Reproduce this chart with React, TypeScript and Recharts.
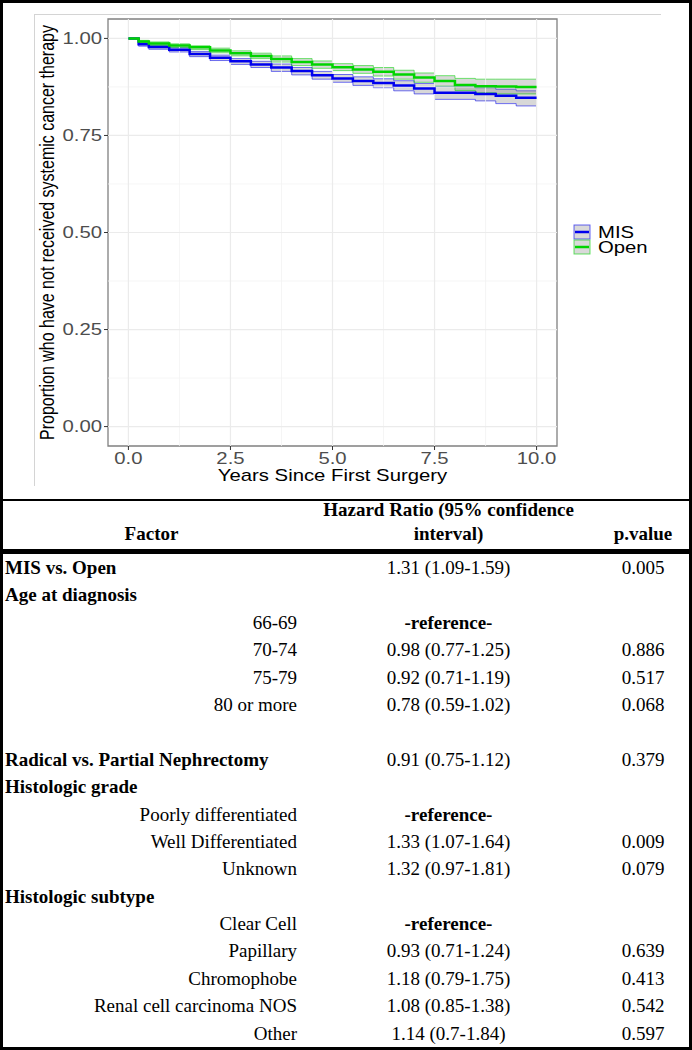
import React from 'react';
import { ComposedChart, Line, Area, XAxis, YAxis, ReferenceLine, ReferenceArea, Label } from 'recharts';

// Kaplan-Meier read-offs (years since first surgery)
const years = [0, 0.25, 0.5, 1, 1.5, 2, 2.5, 3, 3.5, 4, 4.5, 5, 5.5, 6, 6.5, 7, 7.5, 8, 8.5, 9, 9.5, 10];

const misSurv = [1, 0.985, 0.978, 0.971, 0.96, 0.95, 0.941, 0.933, 0.925, 0.916, 0.905, 0.897, 0.89, 0.885, 0.879, 0.871, 0.86, 0.86, 0.857, 0.852, 0.847, 0.847];
const misLower = [1, 0.98, 0.972, 0.965, 0.953, 0.943, 0.933, 0.925, 0.915, 0.906, 0.895, 0.887, 0.879, 0.873, 0.865, 0.857, 0.843, 0.843, 0.839, 0.832, 0.826, 0.826];
const misUpper = [1, 0.99, 0.983, 0.976, 0.966, 0.957, 0.948, 0.941, 0.934, 0.925, 0.915, 0.907, 0.901, 0.896, 0.891, 0.884, 0.876, 0.876, 0.873, 0.869, 0.865, 0.865];

const openSurv = [1, 0.992, 0.987, 0.982, 0.977, 0.969, 0.962, 0.955, 0.947, 0.939, 0.933, 0.926, 0.92, 0.914, 0.907, 0.899, 0.89, 0.88, 0.877, 0.876, 0.875, 0.875];
const openLower = [1, 0.988, 0.982, 0.977, 0.971, 0.963, 0.955, 0.948, 0.939, 0.93, 0.923, 0.917, 0.91, 0.903, 0.895, 0.887, 0.877, 0.866, 0.86, 0.857, 0.857, 0.857];
const openUpper = [1, 0.995, 0.991, 0.986, 0.981, 0.975, 0.968, 0.962, 0.955, 0.948, 0.942, 0.935, 0.93, 0.925, 0.918, 0.911, 0.904, 0.897, 0.895, 0.895, 0.895, 0.895];

const xTicks = [0, 2.5, 5, 7.5, 10];
const xMinor = [1.25, 3.75, 6.25, 8.75];
const yTicks = [0, 0.25, 0.5, 0.75, 1];
const yMinor = [0.125, 0.375, 0.625, 0.875];

// Cox model table
const factorNames = ['MIS vs. Open', 'Age at diagnosis', '66-69', '70-74', '75-79', '80 or more', '', 'Radical vs. Partial Nephrectomy', 'Histologic grade', 'Poorly differentiated', 'Well Differentiated', 'Unknown', 'Histologic subtype', 'Clear Cell', 'Papillary', 'Chromophobe', 'Renal cell carcinoma NOS', 'Other'];
const factorIsGroup = [true, true, false, false, false, false, false, true, true, false, false, false, true, false, false, false, false, false];
const hazardRatios = ['1.31 (1.09-1.59)', '', '-reference-', '0.98 (0.77-1.25)', '0.92 (0.71-1.19)', '0.78 (0.59-1.02)', '', '0.91 (0.75-1.12)', '', '-reference-', '1.33 (1.07-1.64)', '1.32 (0.97-1.81)', '', '-reference-', '0.93 (0.71-1.24)', '1.18 (0.79-1.75)', '1.08 (0.85-1.38)', '1.14 (0.7-1.84)'];
const pValues = ['0.005', '', '', '0.886', '0.517', '0.068', '', '0.379', '', '', '0.009', '0.079', '', '', '0.639', '0.413', '0.542', '0.597'];

const BLUE = '#0000ee';
const GREEN = '#00d400';
const SANS = '"Liberation Sans", Arial, sans-serif';
const SERIF = '"Liberation Serif", "Times New Roman", serif';
const STRETCH = 1.27;

const data = years.map((t, i) => ({
  t,
  mis: misSurv[i],
  misBand: [misLower[i], misUpper[i]],
  open: openSurv[i],
  openBand: [openLower[i], openUpper[i]],
}));

const YTick = (props: any) => {
  const { x, y, payload } = props;
  return (
    <g transform={`translate(${x},${y})`}>
      <text transform={`scale(${STRETCH},1)`} textAnchor="end" dy={5.6} fill="#4d4d4d" fontSize={16} fontFamily={SANS}>
        {Number(payload.value).toFixed(2)}
      </text>
    </g>
  );
};

const XTick = (props: any) => {
  const { x, y, payload } = props;
  return (
    <g transform={`translate(${x},${y})`}>
      <text transform={`scale(${STRETCH},1)`} textAnchor="middle" dy={11.5} fill="#4d4d4d" fontSize={16} fontFamily={SANS}>
        {Number(payload.value).toFixed(1)}
      </text>
    </g>
  );
};

const renderXTitle = (props: any) => {
  const vb = props.viewBox;
  const cx = vb.x + vb.width / 2;
  return (
    <text transform={`translate(${cx},${vb.y + 35}) scale(${STRETCH},1)`} textAnchor="middle" fontSize={16} fill="#000" fontFamily={SANS}>
      Years Since First Surgery
    </text>
  );
};

const renderYTitle = (props: any) => {
  const vb = props.viewBox;
  const cy = vb.y + vb.height / 2;
  return (
    <text transform={`translate(54,${cy}) scale(${STRETCH},1) rotate(-90)`} textAnchor="middle" fontSize={16} fill="#000" fontFamily={SANS}>
      Proportion who have not received systemic cancer therapy
    </text>
  );
};

const legendItems = [
  { name: 'MIS', color: BLUE },
  { name: 'Open', color: GREEN },
];

const KMLegend = () => (
  <svg width={110} height={40} style={{ position: 'absolute', left: 570, top: 222 }}>
    {legendItems.map((item, i) => (
      <g key={item.name} transform={`translate(4,${3 + i * 15})`}>
        <rect x={0} y={0} width={16} height={14} fill="#d9d9d9" stroke={item.color} strokeOpacity={0.6} strokeWidth={1} />
        <line x1={1} x2={15} y1={7} y2={7} stroke={item.color} strokeWidth={2.5} />
        <text transform={`translate(24,12.5) scale(${STRETCH},1)`} fontSize={16} fill="#000" fontFamily={SANS}>
          {item.name}
        </text>
      </g>
    ))}
  </svg>
);

const KMChart = () => (
  <ComposedChart width={692} height={497} data={data} margin={{ top: 19, right: 135, bottom: 11, left: 0 }}>
    {xMinor.map((v) => (
      <ReferenceLine key={'xm' + v} x={v} stroke="#f3f3f3" strokeWidth={0.8} />
    ))}
    {yMinor.map((v) => (
      <ReferenceLine key={'ym' + v} y={v} stroke="#f3f3f3" strokeWidth={0.8} />
    ))}
    {xTicks.map((v) => (
      <ReferenceLine key={'xM' + v} x={v} stroke="#ebebeb" strokeWidth={1.2} />
    ))}
    {yTicks.map((v) => (
      <ReferenceLine key={'yM' + v} y={v} stroke="#ebebeb" strokeWidth={1.2} />
    ))}
    <XAxis
      dataKey="t"
      type="number"
      domain={[-0.5, 10.5]}
      ticks={xTicks}
      height={40}
      axisLine={false}
      tickLine={{ stroke: '#333' }}
      tickSize={4}
      tick={<XTick />}
      allowDataOverflow
    >
      <Label content={renderXTitle} />
    </XAxis>
    <YAxis
      type="number"
      domain={[-0.05, 1.05]}
      ticks={yTicks}
      width={108}
      axisLine={false}
      tickLine={{ stroke: '#333' }}
      tickSize={4}
      tick={<YTick />}
      allowDataOverflow
    >
      <Label content={renderYTitle} />
    </YAxis>
    <Area dataKey="misBand" type="stepAfter" fill="#7f7f7f" fillOpacity={0.3} stroke={BLUE} strokeOpacity={0.55} strokeWidth={1} isAnimationActive={false} />
    <Area dataKey="openBand" type="stepAfter" fill="#7f7f7f" fillOpacity={0.3} stroke={GREEN} strokeOpacity={0.55} strokeWidth={1} isAnimationActive={false} />
    <Line dataKey="mis" type="stepAfter" stroke={BLUE} strokeWidth={2.5} dot={false} activeDot={false} isAnimationActive={false} />
    <Line dataKey="open" type="stepAfter" stroke={GREEN} strokeWidth={2.5} dot={false} activeDot={false} isAnimationActive={false} />
    <ReferenceArea x1={-0.5} x2={10.5} y1={-0.05} y2={1.05} fill="none" stroke="#808080" strokeWidth={1.3} ifOverflow="extendDomain" />
  </ComposedChart>
);

const ROW_H = 27.4;
const FONT = 19;

const HazardTable = () => (
  <div style={{ position: 'absolute', left: 0, top: 499, width: 692, fontFamily: SERIF, fontSize: FONT, color: '#000' }}>
    <div style={{ height: 2, background: '#000' }} />
    <div style={{ position: 'relative', height: 48, fontWeight: 'bold' }}>
      <div style={{ position: 'absolute', left: 3, width: 297, bottom: 3, lineHeight: '24px', textAlign: 'center' }}>Factor</div>
      <div style={{ position: 'absolute', left: 300, width: 297, bottom: 3, lineHeight: '24px', textAlign: 'center' }}>
        Hazard Ratio (95% confidence
        <br />
        interval)
      </div>
      <div style={{ position: 'absolute', left: 597, width: 92, bottom: 3, lineHeight: '24px', textAlign: 'center' }}>p.value</div>
    </div>
    <div style={{ height: 5, background: '#000' }} />
    {factorNames.map((name, i) => (
      <div key={i} style={{ display: 'flex', height: ROW_H, lineHeight: ROW_H + 'px', whiteSpace: 'nowrap' }}>
        <div
          style={{
            width: 297,
            marginLeft: 3,
            boxSizing: 'border-box',
            textAlign: factorIsGroup[i] ? 'left' : 'right',
            fontWeight: factorIsGroup[i] ? 'bold' : 'normal',
            paddingLeft: 2,
            paddingRight: 3,
          }}
        >
          {name}
        </div>
        <div style={{ width: 297, textAlign: 'center', fontWeight: hazardRatios[i] === '-reference-' ? 'bold' : 'normal' }}>
          {hazardRatios[i]}
        </div>
        <div style={{ width: 92, textAlign: 'center' }}>{pValues[i]}</div>
      </div>
    ))}
  </div>
);

export default function App() {
  return (
    <div style={{ position: 'absolute', left: 0, top: 0, width: 692, height: 1050, background: '#fff', overflow: 'hidden' }}>
      <div style={{ position: 'absolute', left: 34, top: 14, width: 626, height: 471, borderTop: '1px solid #d4d4d4', borderLeft: '1px solid #d4d4d4' }} />
      <div style={{ position: 'absolute', left: 0, top: 0 }}>
        <KMChart />
      </div>
      <KMLegend />
      <HazardTable />
      <div style={{ position: 'absolute', left: 0, top: 0, width: 692, height: 1050, boxSizing: 'border-box', border: '3px solid #000', pointerEvents: 'none' }} />
    </div>
  );
}
